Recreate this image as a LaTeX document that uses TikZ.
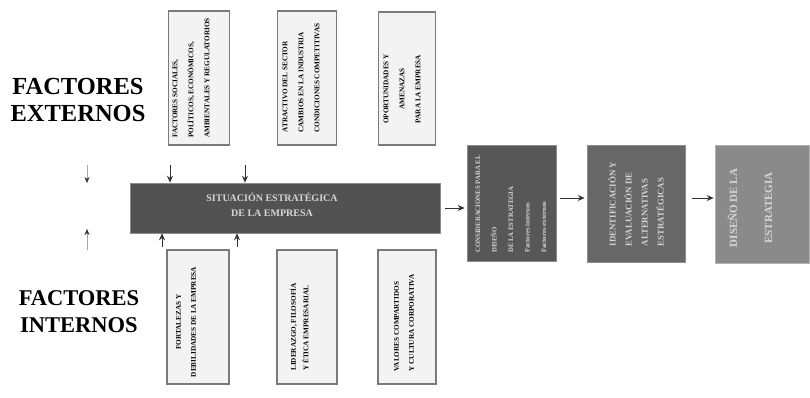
\documentclass[tikz,border=0pt]{standalone}
\usepackage{fontspec}
\setmainfont{Liberation Serif}
\usetikzlibrary{arrows.meta}
\definecolor{lightbox}{HTML}{F3F3F3}
\definecolor{lightedge}{HTML}{7A7A7A}
\definecolor{bardark}{HTML}{525252}
\definecolor{boxa}{HTML}{575757}
\definecolor{boxb}{HTML}{676767}
\definecolor{boxc}{HTML}{8A8A8A}
\definecolor{paletext}{HTML}{D6D6D6}
\begin{document}
\begin{tikzpicture}[x=1pt,y=-1pt,
  factorbox/.style={draw=lightedge, line width=1.3pt, fill=lightbox, inner sep=0pt},
  factortext/.style={rotate=90, inner sep=0pt, font=\bfseries\fontsize{7.2}{16}\selectfont, text=black},
  darkbox/.style={inner sep=0pt, draw=black!45, line width=0.6pt},
  darktext/.style={rotate=90, inner sep=0pt, font=\bfseries\fontsize{6.8}{16.5}\selectfont, text=paletext},
  title/.style={font=\bfseries\fontsize{24.5}{27}\selectfont, align=center, inner sep=0pt},
  arr/.style={-{Stealth[length=7pt,width=6pt]}, line width=0.9pt, draw=black!80},
  tinyarr/.style={-{Stealth[length=6pt,width=5pt,color=black!80]}, line width=0.5pt, draw=black!35}
]
\useasboundingbox (0,0) rectangle (810,397);
\fill[white] (0,0) rectangle (810,397);

% titles
\node[title] (ext) at (78,100) {FACTORES\\EXTERNOS};
\node[title, font=\bfseries\fontsize{22.5}{27}\selectfont] (int) at (79,312) {FACTORES\\INTERNOS};

% top boxes
\node[factorbox, minimum width=61pt, minimum height=134pt] (t1) at (199,78) {};
\node[factorbox, minimum width=59pt, minimum height=134pt] (t2) at (307,78) {};
\node[factorbox, minimum width=57pt, minimum height=133pt] (t3) at (407,78.5) {};
\node[factortext, align=left] (t1txt) at (191,78) {FACTORES SOCIALES,\\POLÍTICOS, ECONÓMICOS,\\AMBIENTALES Y REGULATORIOS};
\node[factortext, align=left] (t2txt) at (301,78) {ATRACTIVO DEL SECTOR\\CAMBIOS EN LA INDUSTRIA\\CONDICIONES COMPETITIVAS};
\node[factortext, align=center] (t3txt) at (402,89) {OPORTUNIDADES Y\\AMENAZAS\\PARA LA EMPRESA};

% bottom boxes
\node[factorbox, minimum width=62pt, minimum height=134pt] (b1) at (198,317) {};
\node[factorbox, minimum width=60pt, minimum height=134pt] (b2) at (307,317) {};
\node[factorbox, minimum width=58pt, minimum height=134pt] (b3) at (407,317) {};
\node[factortext, align=center, font=\bfseries\fontsize{7.2}{15}\selectfont] (b1txt) at (186,322) {FORTALEZAS Y\\DEBILIDADES DE LA EMPRESA};
\node[factortext, align=left, font=\bfseries\fontsize{7.2}{12.5}\selectfont] (b2txt) at (299,327) {LIDERAZGO, FILOSOFÍA\\Y ÉTICA EMPRESARIAL};
\node[factortext, align=left, font=\bfseries\fontsize{7.2}{15}\selectfont] (b3txt) at (404,323) {VALORES COMPARTIDOS\\Y CULTURA CORPORATIVA};

% central bar
\node[darkbox, fill=bardark, minimum width=310pt, minimum height=50pt] (bar) at (285,208) {};
\node[inner sep=0pt, align=center, text=paletext, font=\bfseries\fontsize{10}{15}\selectfont] (bartxt) at (272,205) {SITUACIÓN ESTRATÉGICA\\DE LA EMPRESA};

% right boxes
\node[darkbox, fill=boxa, minimum width=89pt, minimum height=116pt] (A) at (511.5,203) {};
\node[darkbox, fill=boxb, minimum width=98pt, minimum height=117pt] (B) at (636,203.5) {};
\node[darkbox, fill=boxc, draw=black!30, minimum width=94pt, minimum height=118pt] (C) at (762,204) {};
\node[darktext, align=left] (Atxt) at (511,204) {CONSIDERACIONES PARA EL\\DISEÑO\\DE LA ESTRATEGIA\\Factores internos\\Factores externos};
\node[darktext, align=left, font=\bfseries\fontsize{8.8}{16}\selectfont] (Btxt) at (636,204) {IDENTIFICACIÓN Y\\EVALUACIÓN DE\\ALTERNATIVAS\\ESTRATÉGICAS};
\node[darktext, align=center, font=\bfseries\fontsize{11}{35}\selectfont] (Ctxt) at (750,208) {DISEÑO DE LA\\ESTRATEGIA};

% arrows into the bar
\coordinate (ta) at (170,165);
\coordinate (tb) at (245,165);
\coordinate (ba) at (162,247);
\coordinate (bb) at (237,247);
\draw[arr] (ta) -- (ta |- bar.north);
\draw[arr] (tb) -- (tb |- bar.north);
\draw[arr] (ba) -- (ba |- bar.south);
\draw[arr] (bb) -- (bb |- bar.south);

% small arrows on the left
\coordinate (ld1) at (87,165);
\coordinate (ld2) at (87,183);
\coordinate (lu1) at (87,250);
\coordinate (lu2) at (87,229);
\draw[tinyarr] (ld1) -- (ld2);
\draw[tinyarr] (lu1) -- (lu2);

% flow arrows
\draw[arr, shorten <=5pt, shorten >=2pt] (bar.east) -- (bar.east -| A.west);
\draw[arr, shorten <=4pt, shorten >=2pt] (A.east |- 0,198) -- (B.west |- 0,198);
\draw[arr, shorten <=7pt, shorten >=1pt] (B.east |- 0,198) -- (C.west |- 0,198);
\end{tikzpicture}
\end{document}
